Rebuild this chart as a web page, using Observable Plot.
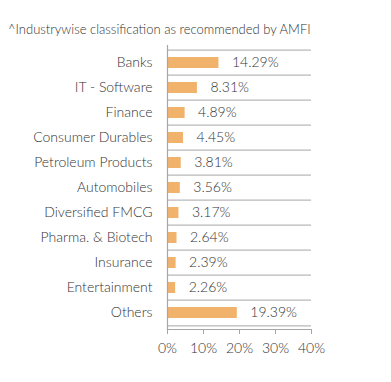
<!DOCTYPE html>
<html>
<head>
<meta charset="utf-8">
<script src="https://cdn.jsdelivr.net/npm/d3@7"></script>
<script src="https://cdn.jsdelivr.net/npm/@observablehq/plot@0.6"></script>
<style>
  body { margin: 0; background: #fff; }
  #wrap { position: relative; width: 391px; height: 382px; }
  #sub { position: absolute; left: 8px; top: 21px; font-family: Lato, sans-serif; font-weight: 300; font-size: 13px; color: #333; white-space: nowrap; }
  #chart { position: absolute; left: 0; top: 0; }
</style>
</head>
<body>
<div id="wrap">
  <div id="chart"></div>
  <div id="sub">^Industrywise classification as recommended by AMFI</div>
</div>
<script>
const categories = ["Banks", "IT - Software", "Finance", "Consumer Durables", "Petroleum Products", "Automobiles", "Diversified FMCG", "Pharma. & Biotech", "Insurance", "Entertainment", "Others"];
const values = [14.29, 8.31, 4.89, 4.45, 3.81, 3.56, 3.17, 2.64, 2.39, 2.26, 19.39];
const xTicks = [0, 10, 20, 30, 40];

const data = categories.map((c, i) => ({category: c, value: values[i]}));
const axisColor = "#a6a6a6";
const textColor = "#333";

const plot = Plot.plot({
  width: 391,
  height: 382,
  marginLeft: 167,
  marginRight: 80,
  marginTop: 45,
  marginBottom: 53,
  style: {fontFamily: "Lato, sans-serif", fontSize: "14px", fontWeight: 300, color: textColor, background: "#fff"},
  x: {domain: [0, 40]},
  y: {domain: categories, paddingInner: 0.58, paddingOuter: 0.29},
  marks: [
    Plot.barX(data, {y: "category", x: "value", fill: "#f1b26c", insetLeft: 1}),
    Plot.text(data, {y: "category", x: "value", text: d => d.value.toFixed(2) + "%", textAnchor: "start", dx: 13, fill: textColor, fontSize: 14}),
    Plot.axisY({tickSize: 0, tickPadding: 15, label: null, fontSize: 14, fill: textColor}),
    Plot.axisX({ticks: xTicks, tickFormat: d => d + "%", tickSize: 5, tickPadding: 9, label: null, stroke: axisColor, fill: textColor, fontSize: 14}),
    Plot.tickY(categories, {y: d => d, x1: -1.2, x2: 0, stroke: axisColor, dy: -12.9}),
    Plot.tickY([categories[categories.length - 1]], {y: d => d, x1: -1.2, x2: 0, stroke: axisColor, dy: 12.9}),
    Plot.frame({anchor: "left", stroke: axisColor, strokeWidth: 1.2}),
    Plot.frame({anchor: "bottom", stroke: axisColor, strokeWidth: 1.2})
  ]
});
document.getElementById("chart").appendChild(plot);
</script>
</body>
</html>
